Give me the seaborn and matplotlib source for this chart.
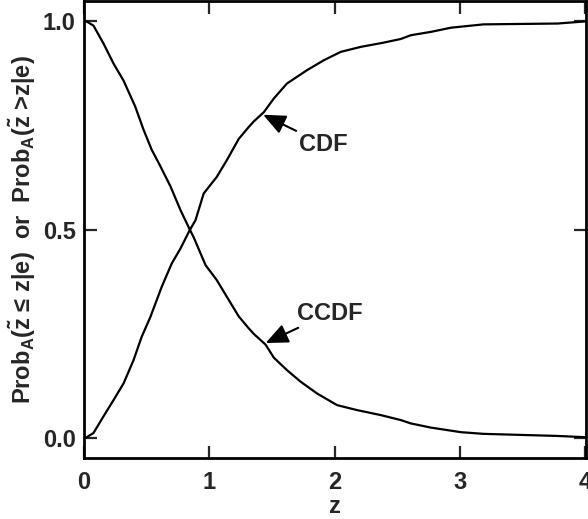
import numpy as np
import matplotlib.pyplot as plt
import seaborn as sns
import pandas as pd

# data
z_cdf = [0.0, 0.01, 0.075, 0.155, 0.235, 0.315, 0.395, 0.46, 0.53, 0.62, 0.70, 0.77,
         0.84, 0.89, 0.955, 1.06, 1.14, 1.235, 1.31, 1.355, 1.435, 1.515, 1.62, 1.78,
         1.915, 2.05, 2.21, 2.39, 2.53, 2.61, 2.77, 2.93, 3.19, 3.78, 4.0]
cdf = [0.0, 0.0, 0.012, 0.052, 0.091, 0.131, 0.187, 0.243, 0.291, 0.363, 0.419, 0.455,
       0.497, 0.523, 0.587, 0.627, 0.667, 0.718, 0.745, 0.760, 0.782, 0.815, 0.851, 0.883,
       0.907, 0.927, 0.939, 0.949, 0.958, 0.967, 0.975, 0.985, 0.993, 0.995, 1.0]

z_ccdf = [0.0, 0.02, 0.075, 0.155, 0.235, 0.315, 0.408, 0.475, 0.54, 0.61, 0.69, 0.77,
          0.84, 0.875, 0.97, 1.06, 1.14, 1.235, 1.31, 1.355, 1.45, 1.515, 1.62, 1.73,
          1.86, 2.02, 2.18, 2.37, 2.53, 2.61, 2.77, 3.01, 3.19, 3.78, 4.0]
ccdf = [1.0, 1.0, 0.99, 0.947, 0.899, 0.858, 0.796, 0.74, 0.692, 0.652, 0.604, 0.547,
        0.503, 0.482, 0.415, 0.379, 0.339, 0.292, 0.265, 0.250, 0.224, 0.193, 0.163, 0.135,
        0.107, 0.079, 0.067, 0.055, 0.043, 0.035, 0.025, 0.014, 0.01, 0.005, 0.002]

x_ticks = [0, 1, 2, 3, 4]
y_ticks = [0.0, 0.5, 1.0]
y_tick_labels = ['0.0', '0.5', '1.0']

df = pd.concat([
    pd.DataFrame({'z': z_cdf, 'p': cdf, 'curve': 'CDF'}),
    pd.DataFrame({'z': z_ccdf, 'p': ccdf, 'curve': 'CCDF'}),
])

sns.set_style('ticks')
plt.rcParams['font.family'] = ['Liberation Sans', 'DejaVu Sans']
plt.rcParams['font.weight'] = 'bold'
plt.rcParams['mathtext.fontset'] = 'custom'
plt.rcParams['mathtext.rm'] = 'Liberation Sans:bold'
plt.rcParams['mathtext.bf'] = 'Liberation Sans:bold'

fig = plt.figure(figsize=(5.88, 5.19), dpi=100)
ax = fig.add_axes([0.143, 0.1175, 0.854, 0.8805])

sns.lineplot(data=df, x='z', y='p', units='curve', estimator=None, sort=False,
             color='black', linewidth=1.6, ax=ax)

ax.set_xlim(0, 4.01)
ax.set_ylim(-0.048, 1.049)
ax.set_xticks(x_ticks)
ax.set_yticks(y_ticks)
ax.set_yticklabels(y_tick_labels)
ax.tick_params(direction='in', length=9, width=1.6, labelsize=17,
               top=True, right=True)
ax.tick_params(axis='x', pad=9)
ax.tick_params(axis='y', pad=6)
for lab in ax.get_xticklabels() + ax.get_yticklabels():
    lab.set_fontweight('bold')
for s in ax.spines.values():
    s.set_linewidth(2)
    s.set_color('black')

ax.set_xlabel('z', fontsize=17, fontweight='bold', labelpad=1)
ax.set_ylabel('Prob$_\\mathrm{A}$(z\u0303 \u2264 z|e)  or  Prob$_\\mathrm{A}$(z\u0303 >z|e)',
              fontsize=17, fontweight='bold', labelpad=4)

arrow = dict(arrowstyle='-|>,head_length=0.8,head_width=0.35', color='black', lw=1.5,
             shrinkA=0, shrinkB=0)
ax.annotate('CDF', xy=(1.43, 0.776), xytext=(1.72, 0.705), fontsize=17,
            fontweight='bold', va='center', ha='left', arrowprops=arrow)
ax.annotate('CCDF', xy=(1.45, 0.228), xytext=(1.70, 0.30), fontsize=17,
            fontweight='bold', va='center', ha='left', arrowprops=arrow)

fig.savefig('out.png', dpi=100)
